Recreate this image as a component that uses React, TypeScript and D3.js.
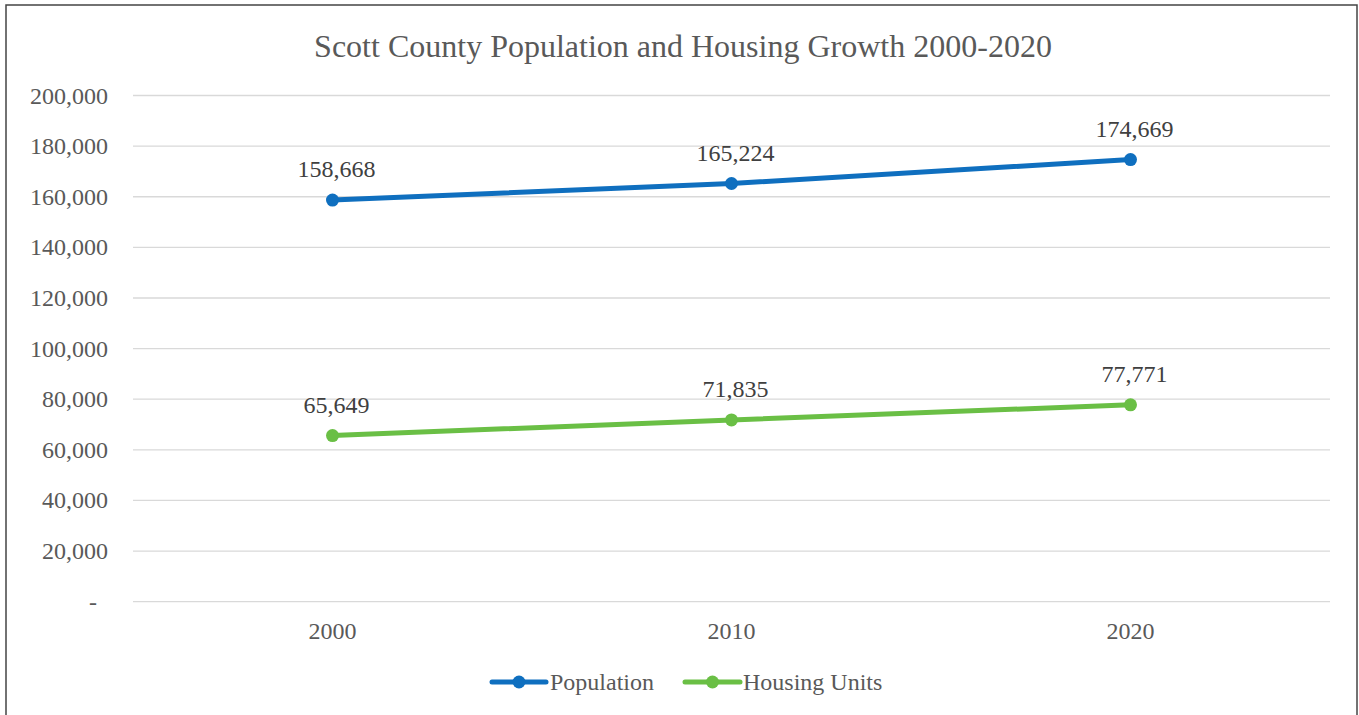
import React, { useRef, useEffect } from 'react';
import * as d3 from 'd3';

const years = ["2000", "2010", "2020"];
const population = [158668, 165224, 174669];
const housingUnits = [65649, 71835, 77771];
const yTicks = [0, 20000, 40000, 60000, 80000, 100000, 120000, 140000, 160000, 180000, 200000];

const App: React.FC = () => {
  const svgRef = useRef<SVGSVGElement | null>(null);

  useEffect(() => {
    const svg = d3.select(svgRef.current);
    svg.selectAll("*").remove();

    const width = 1359;
    const height = 715;
    const font = "'Liberation Serif', 'Times New Roman', serif";
    const textColor = "#595959";

    svg.attr("width", width).attr("height", height);

    svg.append("rect")
      .attr("x", 0).attr("y", 0).attr("width", width).attr("height", height)
      .attr("fill", "#fff");

    // outer border
    svg.append("rect")
      .attr("x", 6).attr("y", 5)
      .attr("width", 1351).attr("height", 730)
      .attr("fill", "none")
      .attr("stroke", "#444")
      .attr("stroke-width", 1.5);

    // title
    svg.append("text")
      .attr("x", 683)
      .attr("y", 57)
      .attr("text-anchor", "middle")
      .attr("font-family", font)
      .attr("font-size", 32)
      .attr("fill", textColor)
      .text("Scott County Population and Housing Growth 2000-2020");

    const x = d3.scaleBand()
      .domain(years)
      .range([133, 1330]);

    const y = d3.scaleLinear()
      .domain([0, 200000])
      .range([601.7, 95.5]);

    // gridlines
    svg.append("g")
      .selectAll("line")
      .data(yTicks)
      .join("line")
      .attr("x1", 133)
      .attr("x2", 1330)
      .attr("y1", d => y(d))
      .attr("y2", d => y(d))
      .attr("stroke", "#d9d9d9")
      .attr("stroke-width", 1.3);

    // y labels
    const fmt = d3.format(",");
    svg.append("g")
      .selectAll("text")
      .data(yTicks)
      .join("text")
      .attr("x", d => d === 0 ? 97 : 108)
      .attr("y", d => y(d) + 8)
      .attr("text-anchor", "end")
      .attr("font-family", font)
      .attr("font-size", 24)
      .attr("fill", textColor)
      .text(d => d === 0 ? "-" : fmt(d));

    // x labels
    svg.append("g")
      .selectAll("text")
      .data(years)
      .join("text")
      .attr("x", d => x(d)! + x.bandwidth() / 2)
      .attr("y", 639)
      .attr("text-anchor", "middle")
      .attr("font-family", font)
      .attr("font-size", 24)
      .attr("fill", textColor)
      .text(d => d);

    const series = [
      { name: "Population", values: population, color: "#0F6FBF" },
      { name: "Housing Units", values: housingUnits, color: "#6ABF45" }
    ];

    const line = d3.line<number>()
      .x((_, i) => x(years[i])! + x.bandwidth() / 2)
      .y(d => y(d));

    series.forEach(s => {
      svg.append("path")
        .datum(s.values)
        .attr("d", line)
        .attr("fill", "none")
        .attr("stroke", s.color)
        .attr("stroke-width", 5)
        .attr("stroke-linecap", "round");

      svg.append("g")
        .selectAll("circle")
        .data(s.values)
        .join("circle")
        .attr("cx", (_, i) => x(years[i])! + x.bandwidth() / 2)
        .attr("cy", d => y(d))
        .attr("r", 6.5)
        .attr("fill", s.color);

      svg.append("g")
        .selectAll("text")
        .data(s.values)
        .join("text")
        .attr("x", (_, i) => x(years[i])! + x.bandwidth() / 2 + 4)
        .attr("y", d => y(d) - 23)
        .attr("text-anchor", "middle")
        .attr("font-family", font)
        .attr("font-size", 24)
        .attr("fill", "#404040")
        .text(d => fmt(d));
    });

    // legend
    const legendItems = [
      { x0: 492, x1: 546, tx: 550 },
      { x0: 685, x1: 740, tx: 743 }
    ];
    series.forEach((s, i) => {
      const li = legendItems[i];
      const g = svg.append("g");
      g.append("line")
        .attr("x1", li.x0).attr("x2", li.x1)
        .attr("y1", 682).attr("y2", 682)
        .attr("stroke", s.color)
        .attr("stroke-width", 5)
        .attr("stroke-linecap", "round");
      g.append("circle")
        .attr("cx", (li.x0 + li.x1) / 2)
        .attr("cy", 682)
        .attr("r", 6.5)
        .attr("fill", s.color);
      g.append("text")
        .attr("x", li.tx)
        .attr("y", 690)
        .attr("font-family", font)
        .attr("font-size", 24)
        .attr("fill", textColor)
        .text(s.name);
    });
  }, []);

  return (
    <div style={{ position: "absolute", top: 0, left: 0 }}>
      <svg ref={svgRef} style={{ display: "block" }}></svg>
    </div>
  );
};

export default App;
